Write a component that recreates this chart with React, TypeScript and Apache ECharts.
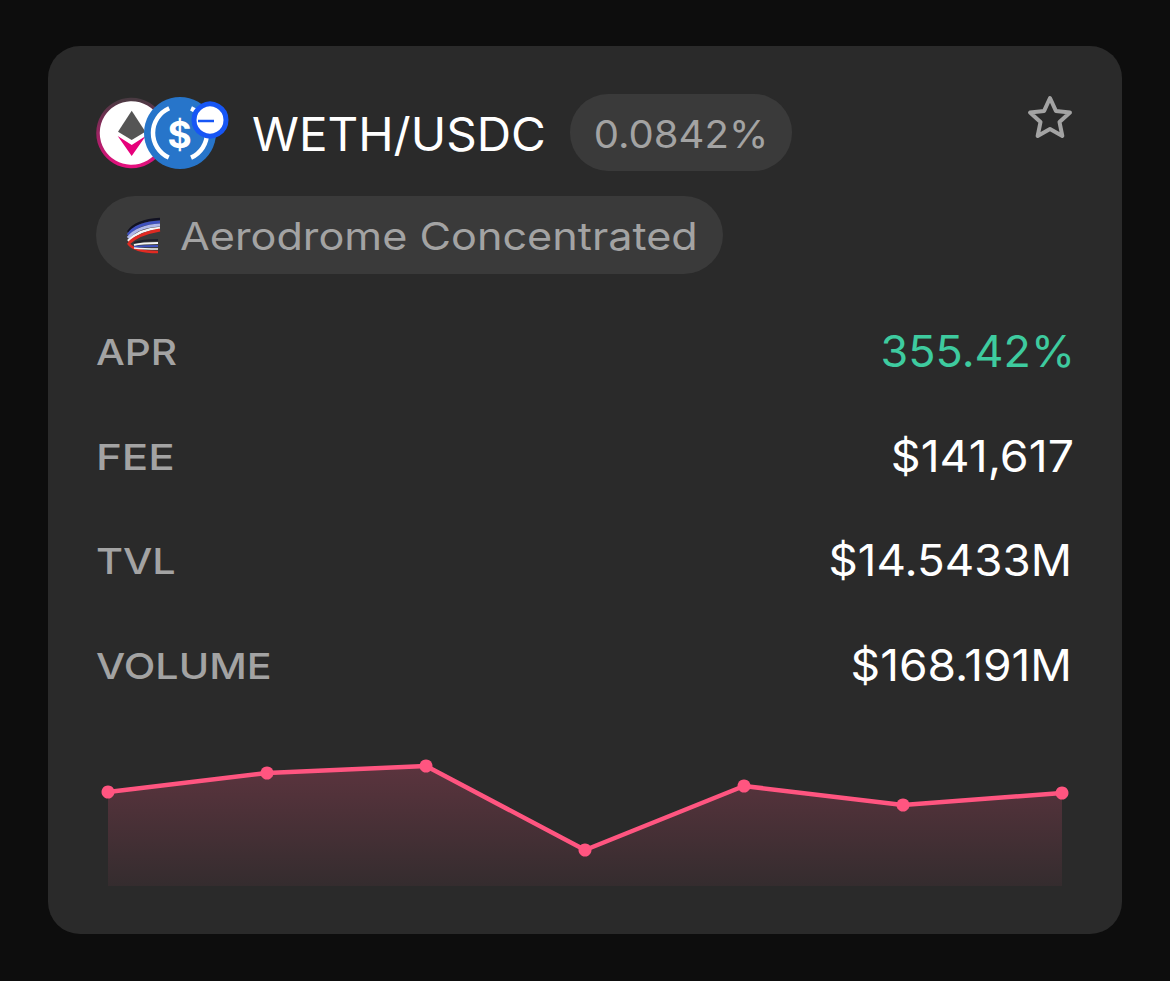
import React, { useEffect, useRef } from "react";
import * as echarts from "echarts";

const days = ["1", "2", "3", "4", "5", "6", "7"];
const values = [94, 113, 120, 36, 100, 81, 93];
const rowLabels = ["APR", "FEE", "TVL", "VOLUME"];
const rowValues = ["355.42%", "$141,617", "$14.5433M", "$168.191M"];
const pairName = "WETH/USDC";
const feeRate = "0.0842%";
const dexName = "Aerodrome Concentrated";

const FONT = "Inter, 'Noto Sans', sans-serif";

const txt = (text: string, x: number, y: number, size: number, fill: string, align = "left", weight: any = 400, sx = 1) => ({
  type: "text", x, y, z: 3, scaleX: sx,
  style: { text, fill, fontSize: size, fontFamily: FONT, fontWeight: weight, textAlign: align, textVerticalAlign: "middle" },
});

const curve = (x1: number, y1: number, cx: number, cy: number, x2: number, y2: number, stroke: string, w: number) => ({
  type: "bezierCurve", z: 4,
  shape: { x1, y1, cpx1: cx, cpy1: cy, x2, y2 },
  style: { stroke, lineWidth: w, fill: "none" },
});

const starPoints = (cx: number, cy: number, R: number, r: number) => {
  const pts: number[][] = [];
  for (let i = 0; i < 10; i++) {
    const a = -Math.PI / 2 + (i * Math.PI) / 5;
    const q = i % 2 ? r : R;
    pts.push([cx + q * Math.cos(a), cy + q * Math.sin(a)]);
  }
  return pts;
};

export default function App() {
  const ref = useRef<HTMLDivElement>(null);
  useEffect(() => {
    const chart = echarts.init(ref.current!, null, { renderer: "svg" });
    const rowY = [351, 456, 560, 665];
    const rowRight = [1075, 1074, 1072, 1072];
    const rowFill = ["#3ecb9f", "#ffffff", "#ffffff", "#ffffff"];
    const labelScale = [1.127, 1.22, 1.15, 1.145];
    const valueScale = [1.02, 1.058, 1.039, 1.048];
    const graphic: any[] = [
      { type: "rect", z: 0, shape: { x: 48, y: 46, width: 1074, height: 888, r: 32 }, style: { fill: "#2a2a2a" } },
      // ETH icon
      {
        type: "circle", z: 2, shape: { cx: 131.5, cy: 133, r: 33.5 },
        style: {
          fill: "#ffffff", lineWidth: 3.5,
          stroke: new echarts.graphic.LinearGradient(0, 0, 0, 1, [
            { offset: 0, color: "#4a3a42" },
            { offset: 1, color: "#e6107f" },
          ]),
        },
      },
      { type: "polygon", z: 3, shape: { points: [[131.7, 110.7], [118, 131.7], [131.7, 140], [145.4, 131.7]] }, style: { fill: "#555555" } },
      { type: "polygon", z: 3, shape: { points: [[117.7, 136], [131.7, 145], [145.7, 136], [131.7, 156]] }, style: { fill: "#e6007a" } },
      // USDC icon
      { type: "circle", z: 4, shape: { cx: 180, cy: 133, r: 36 }, style: { fill: "#2775ca" } },
      { type: "arc", z: 5, shape: { cx: 180, cy: 133, r: 27, startAngle: 2.0, endAngle: 4.3, clockwise: true }, style: { stroke: "#ffffff", lineWidth: 4.5, fill: "none" } },
      { type: "arc", z: 5, shape: { cx: 180, cy: 133, r: 27, startAngle: -1.15, endAngle: 1.15, clockwise: true }, style: { stroke: "#ffffff", lineWidth: 4.5, fill: "none" } },
      {
        type: "text", x: 179.5, y: 134, z: 5,
        style: { text: "$", fill: "#ffffff", fontSize: 37, fontWeight: 700, fontFamily: FONT, textAlign: "center", textVerticalAlign: "middle" },
      },
      // minus badge
      { type: "circle", z: 6, shape: { cx: 210, cy: 120, r: 16 }, style: { fill: "#ffffff", stroke: "#1756f5", lineWidth: 5 } },
      { type: "line", z: 7, shape: { x1: 198, y1: 121, x2: 214, y2: 121 }, style: { stroke: "#1756f5", lineWidth: 2.5 } },
      txt(pairName, 252, 134, 46, "#ffffff", "left", 400, 1.035),
      // fee pill
      { type: "rect", z: 1, shape: { x: 570, y: 94, width: 222, height: 77, r: 38 }, style: { fill: "#3a3a3a" } },
      txt(feeRate, 681, 134, 38, "#a3a3a3", "center", 400, 1.055),
      // star
      {
        type: "polygon", z: 2, shape: { points: starPoints(1050, 119, 21, 10) },
        style: { fill: "none", stroke: "#a3a3a3", lineWidth: 4, lineJoin: "round" },
      },
      // dex pill
      { type: "rect", z: 1, shape: { x: 96, y: 196, width: 627, height: 78, r: 39 }, style: { fill: "#3a3a3a" } },
      curve(160, 219, 136, 220, 128, 232, "#111122", 2.5),
      curve(160, 222, 136, 223, 128, 235, "#3f51c0", 3),
      curve(160, 225, 138, 226, 128, 238, "#aeb6ea", 3),
      curve(160, 228, 140, 229, 128, 241, "#f4f4f4", 2.5),
      curve(160, 230, 138, 234, 129, 243, "#e02a22", 3),
      curve(128, 243, 134, 252, 158, 252, "#e02a22", 2.5),
      curve(134, 243, 142, 240, 158, 240, "#20202c", 2),
      curve(134, 245, 142, 243, 158, 243, "#f4f4f4", 2),
      curve(134, 247, 144, 246, 158, 246, "#3f51c0", 2),
      curve(134, 248, 144, 249, 158, 249, "#f4f4f4", 1.5),
      txt(dexName, 180, 236, 38, "#a3a3a3", "left", 400, 1.137),
    ];
    rowLabels.forEach((label, i) => {
      graphic.push(txt(label, 96, rowY[i] + 1, 36, "#a3a3a3", "left", 500, labelScale[i]));
      graphic.push(txt(rowValues[i], rowRight[i], rowY[i], 44, rowFill[i], "right", 400, valueScale[i]));
    });
    chart.setOption({
      animation: false,
      backgroundColor: "#0d0d0d",
      graphic,
      grid: { left: 108, right: 108, top: 746, bottom: 95 },
      xAxis: { type: "category", data: days, boundaryGap: false, show: false },
      yAxis: { type: "value", min: 0, max: 140, interval: 20, show: false },
      series: [
        {
          type: "line",
          data: values,
          z: 5,
          symbol: "circle",
          symbolSize: 13,
          showAllSymbol: true,
          lineStyle: { color: "#ff5580", width: 4.5 },
          itemStyle: { color: "#ff5580" },
          areaStyle: {
            color: new echarts.graphic.LinearGradient(0, 0, 0, 1, [
              { offset: 0, color: "rgba(255,85,128,0.33)" },
              { offset: 1, color: "rgba(255,85,128,0.07)" },
            ]),
          },
        },
      ],
    });
    return () => chart.dispose();
  }, []);
  return <div ref={ref} style={{ position: "fixed", left: 0, top: 0, width: 1170, height: 981 }} />;
}
